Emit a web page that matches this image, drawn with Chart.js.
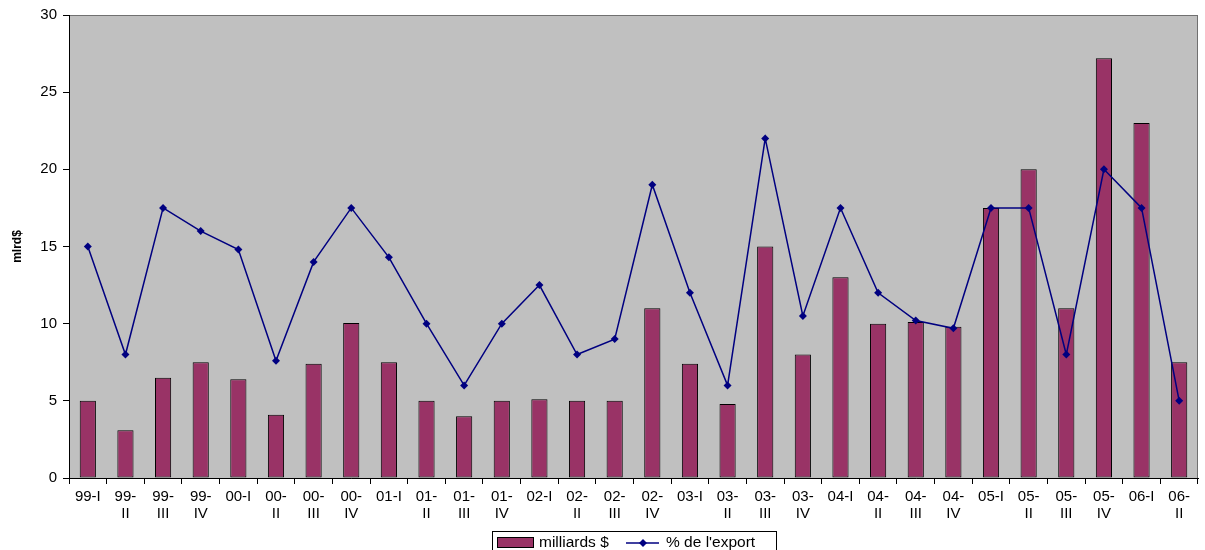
<!DOCTYPE html>
<html>
<head>
<meta charset="utf-8">
<script src="https://cdn.jsdelivr.net/npm/chart.js@4/dist/chart.umd.min.js"></script>
<style>
  html, body { margin: 0; padding: 0; background: #fff; }
  #wrap { width: 1205px; height: 550px; position: relative; }
</style>
</head>
<body>
<div id="wrap"><canvas id="plots"></canvas></div>
<script>
/* quarters, two-line labels like the original */
var quarters = [
  '99-I', ['99-', 'II'], ['99-', 'III'], ['99-', 'IV'],
  '00-I', ['00-', 'II'], ['00-', 'III'], ['00-', 'IV'],
  '01-I', ['01-', 'II'], ['01-', 'III'], ['01-', 'IV'],
  '02-I', ['02-', 'II'], ['02-', 'III'], ['02-', 'IV'],
  '03-I', ['03-', 'II'], ['03-', 'III'], ['03-', 'IV'],
  '04-I', ['04-', 'II'], ['04-', 'III'], ['04-', 'IV'],
  '05-I', ['05-', 'II'], ['05-', 'III'], ['05-', 'IV'],
  '06-I', ['06-', 'II']
];

var milliards = [5, 3.1, 6.5, 7.5, 6.4, 4.1, 7.4, 10.05, 7.5, 5, 4, 5, 5.1, 5, 5, 11,
  7.4, 4.8, 15, 8, 13, 10, 10.1, 9.8, 17.5, 20, 11, 27.2, 23, 7.5];

var pctExport = [15, 8, 17.5, 16, 14.8, 7.6, 14, 17.5, 14.3, 10, 6, 10, 12.5, 8, 9, 19,
  12, 6, 22, 10.5, 17.5, 12, 10.2, 9.7, 17.5, 17.5, 8, 20, 17.5, 5];

var yTicks = [0, 5, 10, 15, 20, 25, 30];

var barColor = '#993366';
var lineColor = '#000080';
var fontFam = '"Liberation Sans", Arial, sans-serif';

// grey plot area with a thin frame
var plotBg = {
  id: 'plotBg',
  beforeDraw: function(chart) {
    var a = chart.chartArea, ctx = chart.ctx;
    ctx.save();
    ctx.fillStyle = '#c0c0c0';
    ctx.fillRect(a.left, a.top, a.right - a.left, a.bottom - a.top);
    ctx.strokeStyle = '#707070';
    ctx.lineWidth = 1;
    ctx.strokeRect(a.left + 0.5, a.top + 0.5, a.right - a.left - 1, a.bottom - a.top);
    ctx.restore();
  }
};

// legend box at the bottom, partly cut like the picture
var boxLegend = {
  id: 'boxLegend',
  afterDraw: function(chart) {
    var ctx = chart.ctx;
    ctx.save();
    ctx.fillStyle = '#fff';
    ctx.fillRect(492, 531, 284, 25);
    ctx.strokeStyle = '#000';
    ctx.lineWidth = 1;
    ctx.strokeRect(492.5, 531.5, 284, 25);
    // bar swatch
    ctx.fillStyle = barColor;
    ctx.fillRect(497, 537, 37, 10);
    ctx.strokeRect(497.5, 537.5, 36, 10);
    ctx.fillStyle = '#000';
    ctx.font = '15.5px ' + fontFam;
    ctx.textBaseline = 'middle';
    ctx.fillText('milliards $', 539, 543);
    // line swatch with diamond
    ctx.strokeStyle = lineColor;
    ctx.lineWidth = 1.5;
    ctx.beginPath();
    ctx.moveTo(626, 543);
    ctx.lineTo(659, 543);
    ctx.stroke();
    ctx.fillStyle = lineColor;
    ctx.beginPath();
    ctx.moveTo(643, 539);
    ctx.lineTo(647, 543);
    ctx.lineTo(643, 547);
    ctx.lineTo(639, 543);
    ctx.closePath();
    ctx.fill();
    ctx.fillStyle = '#000';
    ctx.fillText("% de l'export", 666, 543);
    ctx.restore();
  }
};

var popCanvas = document.getElementById('plots').getContext('2d');

var chart = new Chart(popCanvas, {
  data: {
    labels: quarters,
    datasets: [{
      type: 'line',
      label: "% de l'export",
      data: pctExport,
      borderColor: lineColor,
      backgroundColor: lineColor,
      borderWidth: 1.5,
      pointStyle: 'rectRot',
      pointRadius: 4,
      pointBorderWidth: 0,
      tension: 0,
      order: 0
    }, {
      type: 'bar',
      label: 'milliards $',
      data: milliards,
      backgroundColor: barColor,
      borderColor: '#000',
      borderWidth: 1,
      borderSkipped: false,
      barPercentage: 0.43,
      categoryPercentage: 1,
      order: 1
    }]
  },
  options: {
    responsive: true,
    maintainAspectRatio: false,
    animation: false,
    layout: { padding: { left: 0, top: 15, right: 7, bottom: 0 } },
    plugins: {
      legend: { display: false },
      tooltip: { enabled: false }
    },
    scales: {
      x: {
        offset: true,
        grid: {
          offset: true,
          drawOnChartArea: false,
          drawTicks: true,
          tickLength: 6,
          color: '#000'
        },
        border: { color: '#000', width: 1 },
        ticks: {
          color: '#000',
          maxRotation: 0,
          autoSkip: false,
          padding: 4,
          font: { family: fontFam, size: 15, lineHeight: 1.15 }
        },
        afterFit: function(scale) { scale.height = 72; }
      },
      y: {
        min: 0,
        max: 30,
        afterBuildTicks: function(scale) {
          scale.ticks = yTicks.map(function(v) { return { value: v }; });
        },
        grid: {
          drawOnChartArea: false,
          drawTicks: true,
          tickLength: 6,
          color: '#000'
        },
        border: { color: '#000', width: 1 },
        ticks: {
          color: '#000',
          padding: 6,
          font: { family: fontFam, size: 15 }
        },
        title: {
          display: true,
          text: 'mlrd$',
          color: '#000',
          padding: { top: 10, bottom: 0 },
          font: { family: fontFam, size: 12, weight: 'bold' }
        },
        afterFit: function(scale) { scale.width = 69; }
      }
    }
  },
  plugins: [plotBg, boxLegend]
});
</script>
</body>
</html>
